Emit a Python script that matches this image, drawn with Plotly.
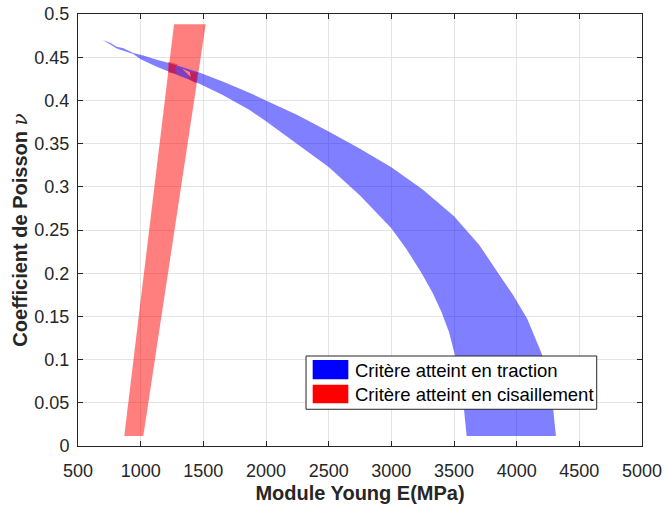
import plotly.graph_objects as go

# ---- data ----
# Blue band (criterion reached in tension): upper/outer edge and lower/inner edge
trac_upper_E = [697, 755, 809, 862, 941, 1021, 1128, 1234, 1473, 1659, 1872, 2000, 2250,
                2500, 2750, 3000, 3250, 3500, 3700, 3853, 3970, 4085, 4199, 4260, 4292, 4313]
trac_upper_nu = [0.470, 0.4668, 0.462, 0.4603, 0.455, 0.452, 0.447, 0.443, 0.432, 0.4215,
                 0.4085, 0.400, 0.383, 0.364, 0.344, 0.3225, 0.297, 0.266, 0.233, 0.200,
                 0.175, 0.147, 0.107, 0.075, 0.042, 0.0116]
trac_lower_E = [697, 755, 809, 862, 941, 1000, 1128, 1234, 1394, 1473, 1659, 1872, 2000,
                2250, 2500, 2750, 3000, 3120, 3242, 3330, 3400, 3460, 3508, 3550, 3580, 3601]
trac_lower_nu = [0.470, 0.465, 0.460, 0.4576, 0.4537, 0.4475, 0.439, 0.433, 0.4236, 0.419,
                 0.406, 0.3885, 0.376, 0.350, 0.323, 0.290, 0.252, 0.228, 0.200, 0.177,
                 0.155, 0.132, 0.105, 0.075, 0.042, 0.0116]

# Red band (criterion reached in shear): corners
cis_E = [869, 1021, 1519, 1266]
cis_nu = [0.0116, 0.0116, 0.488, 0.488]

# Small patches inside the intersection of both regions
both_left_E = [1220, 1292, 1274, 1292, 1220]
both_left_nu = [0.4448, 0.4418, 0.436, 0.4314, 0.4321]
both_right_E = [1367, 1452, 1441, 1394]
both_right_nu = [0.4332, 0.4321, 0.4198, 0.4236]
both_mid_E = [1330, 1392, 1400, 1360]
both_mid_nu = [0.4370, 0.4330, 0.4268, 0.4330]

names = ["Critère atteint en traction", "Critère atteint en cisaillement"]

x_ticks = [500, 1000, 1500, 2000, 2500, 3000, 3500, 4000, 4500, 5000]
x_ticklabels = [str(v) for v in x_ticks]
y_ticks = [0, 0.05, 0.1, 0.15, 0.2, 0.25, 0.3, 0.35, 0.4, 0.45, 0.5]
y_ticklabels = ["0", "0.05", "0.1", "0.15", "0.2", "0.25", "0.3", "0.35", "0.4", "0.45", "0.5"]

# ---- figure ----
FONT = "Liberation Sans, Arial, Helvetica, sans-serif"
TXT = "#262626"
BLUE_A = "rgba(0,0,255,0.5)"
RED_A = "rgba(255,0,0,0.5)"


def closed(xs, ys):
    return list(xs) + [xs[0]], list(ys) + [ys[0]]


# outline of the blue band: outer edge down to the bottom, inner edge back up
trac_x = trac_upper_E + trac_lower_E[::-1]
trac_y = trac_upper_nu + trac_lower_nu[::-1]

fig = go.Figure()
cx, cy = closed(cis_E, cis_nu)
fig.add_trace(go.Scatter(x=cx, y=cy, fill="toself", mode="lines", line=dict(width=0),
                         fillcolor=RED_A, name=names[1], showlegend=False, hoverinfo="skip"))
fig.add_trace(go.Scatter(x=trac_x, y=trac_y, fill="toself", mode="lines", line=dict(width=0),
                         fillcolor=BLUE_A, name=names[0], showlegend=False, hoverinfo="skip"))
for ex, ey, col in [(both_left_E, both_left_nu, RED_A),
                    (both_right_E, both_right_nu, RED_A),
                    (both_mid_E, both_mid_nu, "rgb(255,128,128)")]:
    px_, py_ = closed(ex, ey)
    fig.add_trace(go.Scatter(x=px_, y=py_, fill="toself", mode="lines", line=dict(width=0),
                             fillcolor=col, showlegend=False, hoverinfo="skip"))

axis_common = dict(showgrid=True, gridcolor="#e3e3e3", gridwidth=1,
                   showline=True, linecolor=TXT, linewidth=1, mirror="allticks",
                   ticks="inside", ticklen=5, tickcolor=TXT, zeroline=False,
                   automargin=False,
                   tickfont=dict(family=FONT, size=18, color=TXT))

fig.update_xaxes(range=[500, 5000], tickvals=x_ticks, ticktext=x_ticklabels,
                 ticklabelstandoff=8,
                 title=dict(text="Module Young E(MPa)", standoff=6,
                            font=dict(family=FONT, size=20, color=TXT, weight="bold")),
                 **axis_common)
fig.update_yaxes(range=[0, 0.5], tickvals=y_ticks, ticktext=y_ticklabels,
                 ticklabelstandoff=4,
                 title=dict(text="Coefficient de Poisson <span style='font-weight:normal;font-family:DejaVu Serif'><i>ν</i></span>",
                            standoff=1,
                            font=dict(family=FONT, size=20, color=TXT, weight="bold")),
                 **axis_common)

# ---- legend box drawn in paper coordinates ----
shapes = [
    dict(type="rect", xref="paper", yref="paper", x0=0.4043, x1=0.9197, y0=0.085, y1=0.2083,
         fillcolor="white", line=dict(color=TXT, width=1), layer="above"),
    dict(type="rect", xref="paper", yref="paper", x0=0.4161, x1=0.4793, y0=0.1544, y1=0.1991,
         fillcolor="#0000ff", line=dict(width=0), layer="above"),
    dict(type="rect", xref="paper", yref="paper", x0=0.4161, x1=0.4793, y0=0.0988, y1=0.1419,
         fillcolor="#ff0000", line=dict(width=0), layer="above"),
]
annotations = [
    dict(xref="paper", yref="paper", x=0.4871, y=0.1743, text=names[0], showarrow=False,
         xanchor="left", yanchor="middle", font=dict(family=FONT, size=18.5, color="#000000")),
    dict(xref="paper", yref="paper", x=0.4871, y=0.1181, text=names[1], showarrow=False,
         xanchor="left", yanchor="middle", font=dict(family=FONT, size=18.5, color="#000000")),
]

fig.update_layout(
    width=665, height=505,
    margin=dict(l=78, r=23, t=14, b=59, autoexpand=False),
    paper_bgcolor="white", plot_bgcolor="white",
    font=dict(family=FONT, color=TXT),
    showlegend=False,
    shapes=shapes, annotations=annotations,
)

fig.write_html("out.html", config={"displayModeBar": False},
               post_script="document.body.style.margin='0';")
